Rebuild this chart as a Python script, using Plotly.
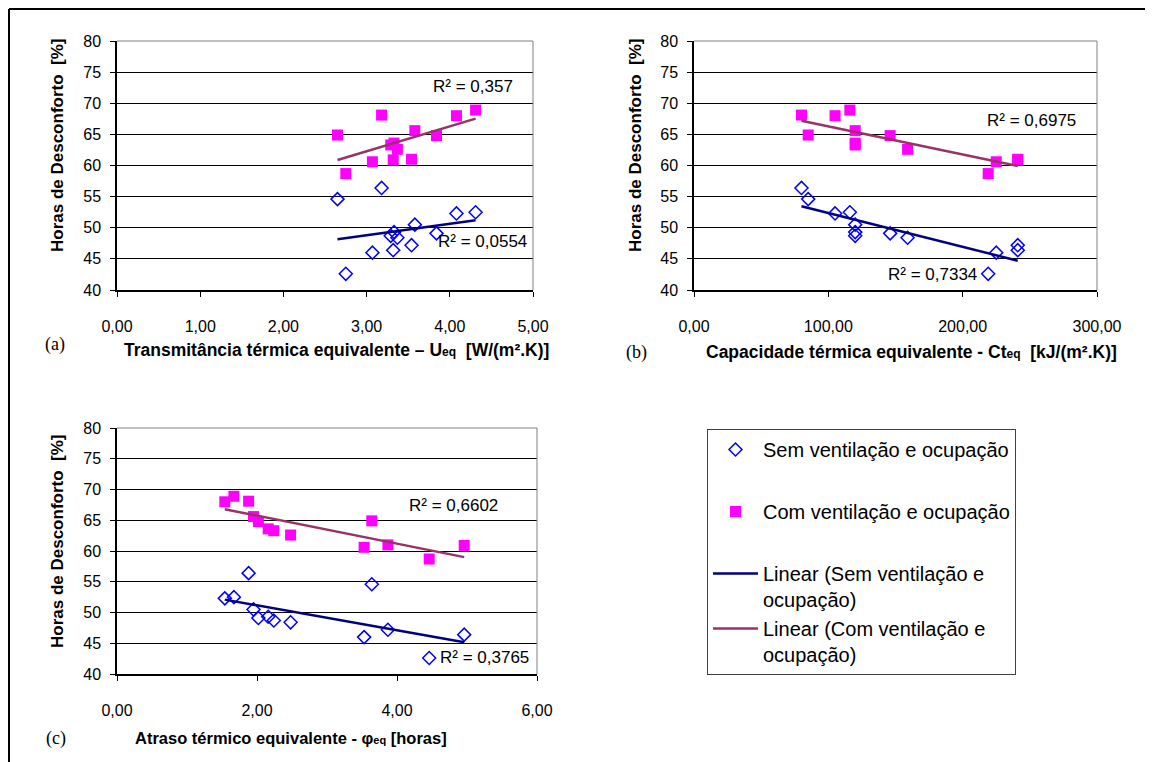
import numpy as np
import plotly.graph_objects as go

# ---- data ----
u_eq = [2.65, 2.75, 3.07, 3.18, 3.29, 3.33, 3.32, 3.37, 3.54, 3.58, 3.84, 4.08, 4.31]
ct_eq = [85, 219, 225, 80, 120, 120, 241, 159, 241, 120, 146, 105, 116]
phi_eq = [3.64, 4.46, 3.53, 1.88, 2.24, 2.16, 4.96, 2.48, 3.87, 1.95, 2.02, 1.54, 1.67]
sem_vent = [54.6, 42.6, 46.0, 56.4, 48.7, 49.3, 46.4, 48.4, 47.2, 50.5, 49.1, 52.3, 52.5]
com_vent = [64.9, 58.7, 60.6, 68.1, 63.3, 63.6, 60.9, 62.6, 61.0, 65.6, 64.8, 68.0, 68.9]

r2_a = ["0,357", "0,0554"]
r2_b = ["0,6975", "0,7334"]
r2_c = ["0,6602", "0,3765"]

name_sem = "Sem ventilação e ocupação"
name_com = "Com ventilação e ocupação"
name_lin_sem = "Linear (Sem ventilação e<br>ocupação)"
name_lin_com = "Linear (Com ventilação e<br>ocupação)"

# the page adds an 8px body margin, so the figure is 8px smaller and
# positions (given in window pixels) are shifted by 8px
OFF = 8
W, H = 1153 - OFF, 762 - OFF
def px(x):
    return (x - OFF) / W
def py(y):
    return 1 - (y - OFF) / H

BLUE = "#0000FF"
MAG = "#FF00FF"
NAVY = "#000080"
PLUM = "#993366"
FONT = "Liberation Sans"

fig = go.Figure()

panels = [
    ("x", "y", u_eq),
    ("x2", "y2", ct_eq),
    ("x3", "y3", phi_eq),
]

def trend(xv, yv):
    xv = np.asarray(xv, float)
    yv = np.asarray(yv, float)
    m, b = np.polyfit(xv, yv, 1)
    xs = np.array([xv.min(), xv.max()])
    return xs, m * xs + b

for i, (xa, ya, xv) in enumerate(panels):
    first = i == 0
    fig.add_trace(go.Scatter(
        x=xv, y=sem_vent, mode="markers", name=name_sem, xaxis=xa, yaxis=ya,
        marker=dict(symbol="diamond-open", size=10, color=BLUE, line=dict(color=BLUE, width=1.5)),
        showlegend=first, legendgroup="g1"))
    fig.add_trace(go.Scatter(
        x=xv, y=com_vent, mode="markers", name=name_com, xaxis=xa, yaxis=ya,
        marker=dict(symbol="square", size=11, color=MAG),
        showlegend=first, legendgroup="g2"))
    tx, ty = trend(xv, sem_vent)
    fig.add_trace(go.Scatter(
        x=tx, y=ty, mode="lines", name=name_lin_sem, xaxis=xa, yaxis=ya,
        line=dict(color=NAVY, width=2.5), showlegend=first, legendgroup="g3"))
    tx, ty = trend(xv, com_vent)
    fig.add_trace(go.Scatter(
        x=tx, y=ty, mode="lines", name=name_lin_com, xaxis=xa, yaxis=ya,
        line=dict(color=PLUM, width=2.5), showlegend=first, legendgroup="g3"))

yaxis_common = dict(
    range=[40, 80], dtick=5, tick0=40, showgrid=True, gridcolor="black", gridwidth=1,
    showline=True, linecolor="black", linewidth=1.5, ticks="outside", ticklen=5,
    tickcolor="black", tickfont=dict(family=FONT, size=16, color="black"),
    ticklabelstandoff=6, zeroline=False, fixedrange=True, automargin=False)
xaxis_common = dict(
    showgrid=False, showline=True, linecolor="black", linewidth=2, ticks="outside",
    ticklen=5, tickcolor="black", tickformat=".2f",
    tickfont=dict(family=FONT, size=16, color="black"), ticklabelstandoff=16,
    zeroline=False, fixedrange=True, automargin=False)

top_ab, bot_ab = 41, 290
top_c, bot_c = 428, 674

fig.update_layout(
    width=W, height=H, margin=dict(l=0, r=0, t=0, b=0, autoexpand=False), autosize=False,
    paper_bgcolor="white", plot_bgcolor="white", separators=",.",
    font=dict(family=FONT, color="black"),
    xaxis=dict(xaxis_common, domain=[px(117), px(533)], range=[0, 5], dtick=1, anchor="y"),
    yaxis=dict(yaxis_common, domain=[py(bot_ab), py(top_ab)], anchor="x"),
    xaxis2=dict(xaxis_common, domain=[px(694), px(1097)], range=[0, 300], dtick=100, anchor="y2"),
    yaxis2=dict(yaxis_common, domain=[py(bot_ab), py(top_ab)], anchor="x2"),
    xaxis3=dict(xaxis_common, domain=[px(117), px(537)], range=[0, 6], dtick=2, anchor="y3"),
    yaxis3=dict(yaxis_common, domain=[py(bot_c), py(top_c)], anchor="x3"),
    legend=dict(x=px(707), y=py(429), xanchor="left", yanchor="top",
                bordercolor="#404040", borderwidth=1, bgcolor="white",
                font=dict(family=FONT, size=20, color="black"),
                tracegroupgap=33, itemwidth=45, valign="top"),
    showlegend=True,
)

shapes = []
# gray plot-area border (top and right)
for xa, ya in [("x", "y"), ("x2", "y2"), ("x3", "y3")]:
    shapes.append(dict(type="line", xref=f"{xa} domain", yref=f"{ya} domain",
                       x0=0, x1=1, y0=1, y1=1, line=dict(color="#808080", width=1)))
    shapes.append(dict(type="line", xref=f"{xa} domain", yref=f"{ya} domain",
                       x0=1, x1=1, y0=0, y1=1, line=dict(color="#808080", width=1)))
# outer frame
shapes.append(dict(type="line", xref="paper", yref="paper", x0=px(9), x1=1, y0=py(9), y1=py(9),
                   line=dict(color="black", width=2)))
shapes.append(dict(type="line", xref="paper", yref="paper", x0=px(9), x1=px(9), y0=py(9), y1=0,
                   line=dict(color="black", width=2)))
fig.update_layout(shapes=shapes)

ann = []
def add_text(text, x, y, size=16, family=FONT, angle=0, xanchor="center"):
    ann.append(dict(text=text, x=px(x), y=py(y), xref="paper", yref="paper",
                    showarrow=False, xanchor=xanchor, yanchor="middle", textangle=angle,
                    font=dict(family=family, size=size, color="black")))

sub = "<span style='font-size:12px'>eq</span>"
sub_c = "<span style='font-size:11px'>eq</span>"
add_text(f"<b>Transmitância térmica equivalente – U{sub}  [W/(m².K)]</b>", 336, 350, 17.5)
add_text(f"<b>Capacidade térmica equivalente - Ct{sub}  [kJ/(m².K)]</b>", 911, 352, 17.5)
add_text(f"<b>Atraso térmico equivalente - φ{sub_c} [horas]</b>", 291, 738, 16.5)
ytitle = "<b>Horas de Desconforto  [%]</b>"
add_text(ytitle, 57, 146, 17, angle=-90)
add_text(ytitle, 635, 146, 17, angle=-90)
add_text(ytitle, 57, 542, 17, angle=-90)
add_text("(a)", 55, 344, 18, family="Liberation Serif")
add_text("(b)", 636, 352, 18, family="Liberation Serif")
add_text("(c)", 56, 738, 18, family="Liberation Serif")
# R² labels
add_text(f"R² = {r2_a[0]}", 473, 87, 17)
add_text(f"R² = {r2_a[1]}", 482, 242, 17)
add_text(f"R² = {r2_b[0]}", 1031, 120, 17)
add_text(f"R² = {r2_b[1]}", 932, 274, 17)
add_text(f"R² = {r2_c[0]}", 453, 505, 17)
add_text(f"R² = {r2_c[1]}", 484, 657, 17)
fig.update_layout(annotations=ann)

fig.write_html("out.html")
